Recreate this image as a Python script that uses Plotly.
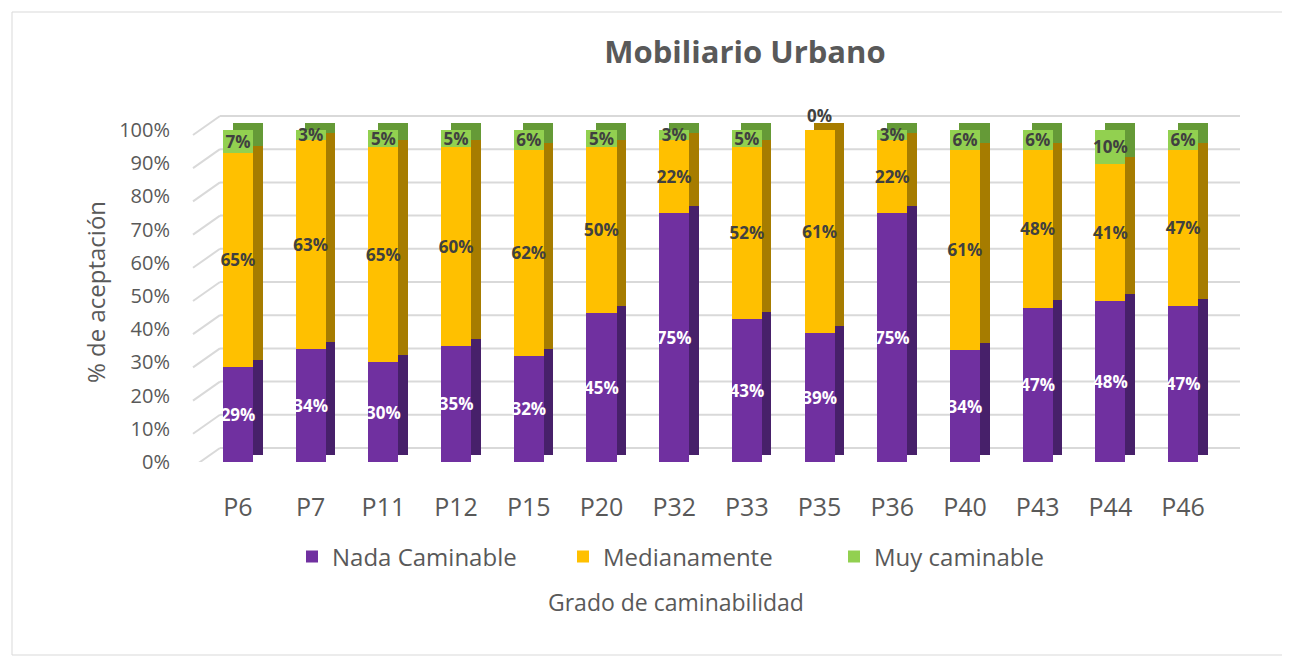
import plotly.graph_objects as go

# data
categorias = ["P6", "P7", "P11", "P12", "P15", "P20", "P32",
              "P33", "P35", "P36", "P40", "P43", "P44", "P46"]
nada_caminable = [29, 34, 30, 35, 32, 45, 75, 43, 39, 75, 34, 47, 48, 47]
medianamente = [65, 63, 65, 60, 62, 50, 22, 52, 61, 22, 61, 48, 41, 47]
muy_caminable = [7, 3, 5, 5, 6, 5, 3, 5, 0, 3, 6, 6, 10, 6]
ticks_y = [0, 10, 20, 30, 40, 50, 60, 70, 80, 90, 100]
ticks_txt = [str(v) + "%" for v in ticks_y]

series = [
    ("Nada Caminable", nada_caminable, "#7030a0", "#47206a", "white"),
    ("Medianamente", medianamente, "#ffc000", "#a67c00", "#404040"),
    ("Muy caminable", muy_caminable, "#92d050", "#659a37", "#404040"),
]

FONT = "Open Sans"
GRAY = "#595959"

fig = go.Figure()

# side faces (pseudo 3D) on the base axes, shifted right/up by layout ranges
for name, vals, front, side, txt in series:
    fig.add_trace(go.Bar(x=categorias, y=vals, name=name, width=0.413,
                         marker=dict(color=side, line_width=0),
                         showlegend=False, hoverinfo="skip",
                         xaxis="x", yaxis="y"))

# front faces with labels
for name, vals, front, side, txt in series:
    pos = ["outside" if v == 0 else "inside" for v in vals]
    fig.add_trace(go.Bar(x=categorias, y=vals, name=name, width=0.413,
                         marker=dict(color=front, line_width=0),
                         text=[str(v) + "%" for v in vals],
                         textposition=pos, insidetextanchor="middle",
                         textangle=0, constraintext="none", cliponaxis=False,
                         textfont=dict(family=FONT, size=17, color=txt,
                                       weight="bold"),
                         outsidetextfont=dict(family=FONT, size=17,
                                              color="#404040", weight="bold"),
                         xaxis="x2", yaxis="y2"))

# geometry (page body has an 8px margin)
l_px, r_px, W = 185, 1232, 1047
bottom_px, top_px, H = 454, 102, 352
wall = (212 - l_px) / W

# back wall gridlines and floor/wall diagonals
shapes = []
for v in ticks_y:
    shapes.append(dict(type="line", xref="paper", yref="y2", layer="below",
                       x0=wall, x1=1, y0=v + 4.22, y1=v + 4.22,
                       line=dict(color="#d9d9d9", width=2)))
    shapes.append(dict(type="line", xref="paper", yref="y2", layer="below",
                       x0=0, x1=wall, y0=v - 1.5, y1=v + 4.22,
                       line=dict(color="#d9d9d9", width=2)))
# chart frame
shapes.append(dict(type="rect", xref="paper", yref="paper", layer="below",
                   x0=(4 - l_px) / W, x1=(1281 - l_px) / W,
                   y0=(bottom_px - 647) / H, y1=(bottom_px - 4) / H,
                   line=dict(color="#d9d9d9", width=1)))

fig.update_layout(
    width=1282, height=649,
    margin=dict(l=l_px, r=1282 - r_px, t=top_px, b=649 - bottom_px),
    paper_bgcolor="white", plot_bgcolor="white",
    barmode="stack", barnorm="percent",
    uniformtext=dict(minsize=17, mode="show"),
    font=dict(family=FONT, color=GRAY),
    title=dict(text="<b>Mobiliario Urbano</b>", x=737 / 1282, xanchor="center",
               y=1 - 44 / 649, yanchor="middle",
               font=dict(family=FONT, size=31, color=GRAY)),
    xaxis=dict(type="category", range=[-0.750, 13.652], visible=False,
               showgrid=False),
    yaxis=dict(range=[-2.11, 103.91], visible=False, showgrid=False),
    xaxis2=dict(type="category", overlaying="x", anchor="y2",
                range=[-0.619, 13.783], showgrid=False, showline=False,
                zeroline=False, ticks="outside", ticklen=23,
                tickcolor="rgba(0,0,0,0)",
                tickfont=dict(family=FONT, size=25, color=GRAY)),
    yaxis2=dict(overlaying="y", anchor="x2", range=[0, 106.02],
                tickvals=ticks_y, ticktext=ticks_txt, showgrid=False,
                zeroline=False, showline=False, ticks="outside", ticklen=18,
                tickcolor="rgba(0,0,0,0)",
                tickfont=dict(family=FONT, size=20, color=GRAY)),
    legend=dict(orientation="h", x=(284 - l_px) / W, xanchor="left",
                y=(bottom_px - 549) / H, yanchor="middle", traceorder="normal",
                entrywidth=226, entrywidthmode="pixels",
                font=dict(family=FONT, size=24, color=GRAY)),
    shapes=shapes,
    annotations=[
        dict(text="% de aceptación", xref="paper", yref="paper",
             x=(87 - l_px) / W, y=(bottom_px - 284) / H, textangle=-90,
             showarrow=False, xanchor="center", yanchor="middle",
             font=dict(family=FONT, size=24, color=GRAY)),
        dict(text="Grado de caminabilidad", xref="paper", yref="paper",
             x=(668 - l_px) / W, y=(bottom_px - 594) / H, showarrow=False,
             xanchor="center", yanchor="middle",
             font=dict(family=FONT, size=23, color=GRAY)),
    ],
)

fig.write_html("out.html")
